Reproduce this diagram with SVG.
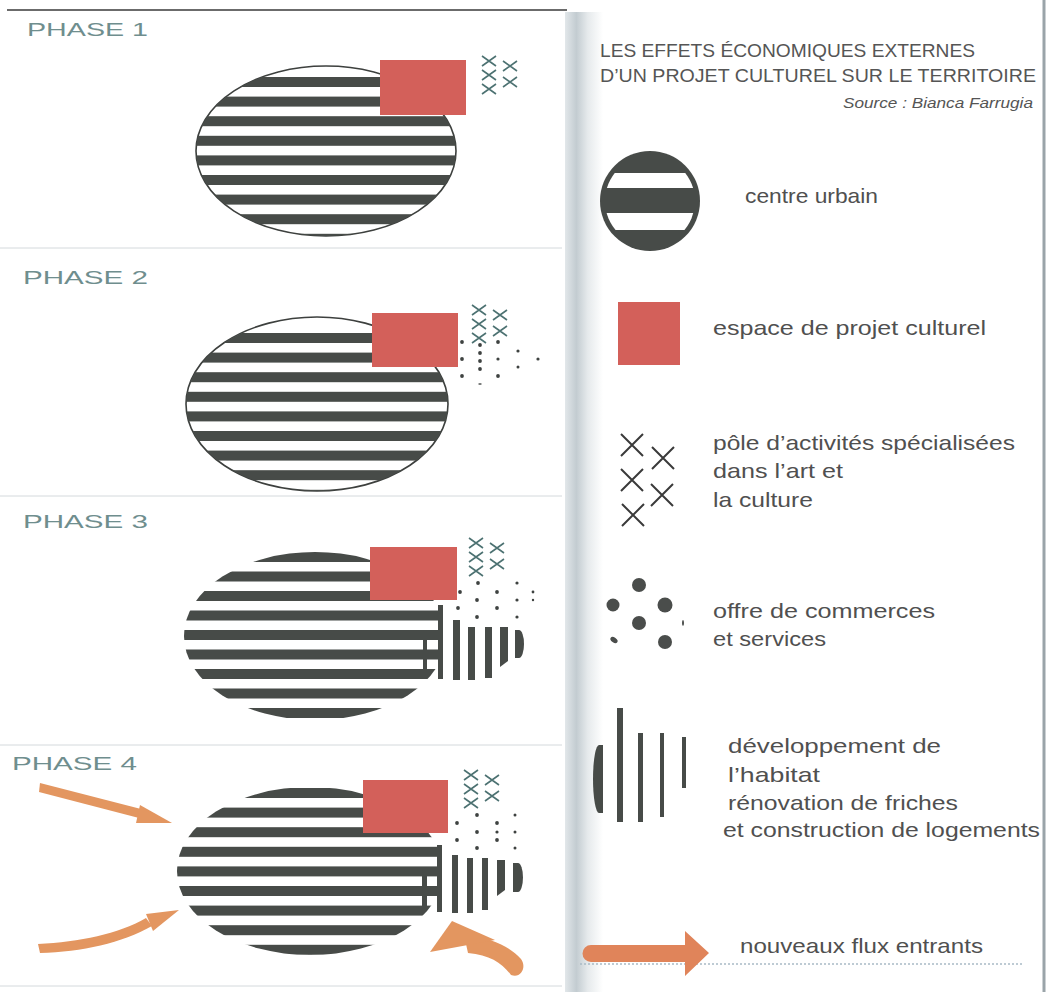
<svg xmlns="http://www.w3.org/2000/svg" width="1048" height="992" viewBox="0 0 1048 992">
<style>
.ph{font-family:"Liberation Sans",Arial,sans-serif;font-size:18px;fill:#6f8e8e;}
.lg{font-family:"Liberation Sans",Arial,sans-serif;font-size:21px;fill:#505050;}
.tt{font-family:"Liberation Sans",Arial,sans-serif;font-size:19px;fill:#555;}
.src{font-family:"Liberation Sans",Arial,sans-serif;font-size:14px;font-style:italic;fill:#555;}
.st{fill:#474b48;}
.red{fill:#d3605a;}
.xs{fill:none;stroke:#4d7272;stroke-width:1.6;}
.dot{fill:#3e4240;}
.flow{fill:#e39660;}
.sep{stroke:#d4d9dc;stroke-width:1;}
</style>
<defs>
<linearGradient id="shade" x1="0" y1="0" x2="1" y2="0">
<stop offset="0" stop-color="#e2e7ea"/>
<stop offset="0.3" stop-color="#c3ccd1"/>
<stop offset="0.6" stop-color="#e6eaec"/>
<stop offset="1" stop-color="#ffffff"/>
</linearGradient>
<clipPath id="c1"><ellipse cx="326" cy="151" rx="130" ry="85"/></clipPath>
<clipPath id="c2"><ellipse cx="317" cy="404" rx="131" ry="87"/></clipPath>
<clipPath id="c3"><path d="M184,636 a131,84 0 0 1 262,0 a131,84 0 0 1 -262,0 Z"/></clipPath>
<clipPath id="c4"><path d="M177,871 a133,84 0 0 1 266,0 a133,84 0 0 1 -266,0 Z"/></clipPath>
<clipPath id="cl"><circle cx="650" cy="201" r="45"/></clipPath>
<path id="xg" d="M-7,-5l14,10m-14,0l14,-10 M14,0l14,10m-14,0l14,-10 M-7,9l14,10m-14,0l14,-10 M14,16l14,10m-14,0l14,-10 M-7,23l14,10m-14,0l14,-10"/>
</defs>
<rect width="1048" height="992" fill="#ffffff"/>

<!-- frame -->
<g id="frame">
<line x1="7" y1="10" x2="567" y2="10" stroke="#3a3a3a" stroke-width="1.5"/>
<line class="sep" x1="0" y1="248" x2="562" y2="248"/>
<line class="sep" x1="0" y1="496" x2="562" y2="496"/>
<line class="sep" x1="0" y1="745" x2="562" y2="745"/>
<line class="sep" x1="0" y1="986" x2="562" y2="986"/>
<rect x="565" y="12" width="38" height="980" fill="url(#shade)"/>
<line x1="1044" y1="0" x2="1044" y2="992" stroke="#9aa4a9" stroke-width="3"/>
</g>

<!-- PHASE 1 -->
<g id="phase1">
<text class="ph" x="27" y="36" textLength="121" lengthAdjust="spacingAndGlyphs">PHASE 1</text>
<ellipse cx="326" cy="151" rx="130" ry="85" fill="#fff" stroke="#3d403e" stroke-width="1.6"/>
<g clip-path="url(#c1)" class="st">
<rect x="190" y="77" width="280" height="10"/>
<rect x="190" y="96.6" width="280" height="10"/>
<rect x="190" y="116.2" width="280" height="10"/>
<rect x="190" y="135.8" width="280" height="10"/>
<rect x="190" y="155.4" width="280" height="10"/>
<rect x="190" y="175" width="280" height="10"/>
<rect x="190" y="194.6" width="280" height="10"/>
<rect x="190" y="214.2" width="280" height="10"/>
<rect x="190" y="233.8" width="280" height="10"/>
</g>
<rect class="red" x="380" y="60" width="86" height="55"/>
<use href="#xg" class="xs" x="489" y="61"/>
</g>

<!-- PHASE 2 -->
<g id="phase2">
<text class="ph" x="23" y="284" textLength="125" lengthAdjust="spacingAndGlyphs">PHASE 2</text>
<ellipse cx="317" cy="404" rx="131" ry="87" fill="#fff" stroke="#3d403e" stroke-width="1.6"/>
<g clip-path="url(#c2)" class="st">
<rect x="180" y="333" width="280" height="10"/>
<rect x="180" y="352.6" width="280" height="10"/>
<rect x="180" y="372.2" width="280" height="10"/>
<rect x="180" y="391.8" width="280" height="10"/>
<rect x="180" y="411.4" width="280" height="10"/>
<rect x="180" y="431" width="280" height="10"/>
<rect x="180" y="450.6" width="280" height="10"/>
<rect x="180" y="470.2" width="280" height="10"/>
<rect x="180" y="489.8" width="280" height="10"/>
</g>
<rect class="red" x="372" y="313" width="86" height="54"/>
<use href="#xg" class="xs" x="479" y="310"/>
<g class="dot">
<circle cx="462" cy="342" r="1.9"/><circle cx="480" cy="345" r="1.9"/><circle cx="498" cy="342" r="1.9"/>
<circle cx="480" cy="353" r="1.9"/><circle cx="518" cy="351" r="1.6"/>
<circle cx="462" cy="359" r="1.9"/><circle cx="480" cy="361" r="1.9"/><circle cx="498" cy="359" r="1.6"/><circle cx="538" cy="359" r="1.6"/>
<circle cx="480" cy="369" r="1.9"/><circle cx="518" cy="367" r="1.5"/>
<circle cx="462" cy="376" r="1.9"/><circle cx="498" cy="376" r="1.9"/>
<ellipse cx="480" cy="384" rx="1.8" ry="0.8"/>
</g>
</g>

<!-- PHASE 3 -->
<g id="phase3">
<text class="ph" x="23" y="528" textLength="125" lengthAdjust="spacingAndGlyphs">PHASE 3</text>
<g clip-path="url(#c3)" class="st">
<rect x="180" y="552" width="263" height="10"/>
<rect x="180" y="571.5" width="263" height="10"/>
<rect x="180" y="591" width="263" height="10"/>
<rect x="180" y="610.5" width="263" height="10"/>
<rect x="180" y="630" width="263" height="10"/>
<rect x="180" y="649.5" width="263" height="10"/>
<rect x="180" y="669" width="263" height="10"/>
<rect x="180" y="688.5" width="263" height="10"/>
<rect x="180" y="708" width="263" height="10"/>
</g>
<g class="st">
<rect x="438" y="605" width="5" height="74"/>
<rect x="423" y="633" width="4" height="40"/>
<rect x="453" y="620" width="7" height="60"/>
<rect x="468" y="627" width="7" height="53"/>
<rect x="485" y="627" width="7" height="51"/>
<path d="M500,627 h8 v34 l-8,6 Z"/>
<path d="M515,630 h4 a5,14 0 0 1 0,28 h-4 Z"/>
</g>
<rect class="red" x="370" y="547" width="87" height="53"/>
<use href="#xg" class="xs" x="476" y="543"/>
<g class="dot">
<circle cx="478" cy="583" r="1.9"/><circle cx="517" cy="583" r="1.6"/>
<circle cx="460" cy="592" r="1.9"/><circle cx="497" cy="592" r="1.9"/><circle cx="533" cy="592" r="1.4"/>
<circle cx="477" cy="600" r="1.9"/><circle cx="517" cy="600" r="1.6"/><circle cx="533" cy="600" r="1.2"/>
<circle cx="458" cy="608" r="1.9"/><circle cx="497" cy="608" r="1.9"/>
<circle cx="477" cy="617" r="1.9"/><circle cx="517" cy="617" r="1.6"/>
</g>
</g>

<!-- PHASE 4 -->
<g id="phase4">
<text class="ph" x="12" y="770" textLength="125" lengthAdjust="spacingAndGlyphs">PHASE 4</text>
<g clip-path="url(#c4)" class="st">
<rect x="170" y="788" width="267" height="10"/>
<rect x="170" y="807.6" width="267" height="10"/>
<rect x="170" y="827.2" width="267" height="10"/>
<rect x="170" y="846.8" width="267" height="10"/>
<rect x="170" y="866.4" width="267" height="10"/>
<rect x="170" y="886" width="267" height="10"/>
<rect x="170" y="905.6" width="267" height="10"/>
<rect x="170" y="925.2" width="267" height="10"/>
<rect x="170" y="944.8" width="267" height="10"/>
</g>
<g class="st">
<rect x="437" y="845" width="5" height="67"/>
<rect x="422" y="870" width="5" height="38"/>
<rect x="452" y="855" width="6" height="58"/>
<rect x="467" y="858" width="6" height="55"/>
<rect x="482" y="858" width="6" height="52"/>
<path d="M497,860 h8 v30 l-8,6 Z"/>
<path d="M513,863 h5 a5,14.5 0 0 1 0,29 h-5 Z"/>
</g>
<rect class="red" x="363" y="780" width="85" height="53"/>
<use href="#xg" class="xs" x="471" y="775"/>
<g class="dot">
<circle cx="477" cy="815" r="1.9"/><circle cx="515" cy="815" r="1.5"/>
<circle cx="457" cy="823" r="1.9"/><circle cx="497" cy="823" r="1.9"/>
<circle cx="477" cy="832" r="1.9"/><circle cx="497" cy="832" r="1.6"/><circle cx="515" cy="832" r="1.5"/>
<circle cx="457" cy="840" r="1.9"/><circle cx="497" cy="840" r="1.9"/>
<circle cx="477" cy="848" r="1.9"/><circle cx="515" cy="848" r="1.5"/>
</g>
</g>

<!-- flows (connectors) -->
<g id="flows" class="flow">
<path d="M40,783 L141,809 L139,818 L39,792 Z"/>
<path d="M172,823 L140,805 L136,823 Z"/>
<path d="M38,944 C80,942 118,934 146,918 L152,926 C122,943 82,952 40,953 Z"/>
<path d="M179,910 L146,914 L153,931 Z"/>
<path d="M464,935 C490,937 509,946 521,959 C527,967 521,979 511,975 C502,963 490,955 468,953 Z"/>
<path d="M452,921 L430,952 L495,940 Z"/>
</g>

<!-- LEGEND -->
<g id="title">
<text class="tt" x="600" y="57" textLength="375" lengthAdjust="spacingAndGlyphs">LES EFFETS ÉCONOMIQUES EXTERNES</text>
<text class="tt" x="600" y="82" textLength="436" lengthAdjust="spacingAndGlyphs">D’UN PROJET CULTUREL SUR LE TERRITOIRE</text>
<text class="src" x="843" y="108" textLength="190" lengthAdjust="spacingAndGlyphs">Source : Bianca Farrugia</text>
</g>

<g id="leg-centre">
<circle cx="650" cy="201" r="50" fill="#474b48"/>
<g clip-path="url(#cl)" fill="#fff">
<rect x="600" y="173" width="100" height="15"/>
<rect x="600" y="213" width="100" height="17"/>
</g>
<text class="lg" x="745" y="203" textLength="133" lengthAdjust="spacingAndGlyphs">centre urbain</text>
</g>

<g id="leg-projet">
<rect class="red" x="618" y="302" width="62" height="63"/>
<text class="lg" x="713" y="335" textLength="273" lengthAdjust="spacingAndGlyphs">espace de projet culturel</text>
</g>

<g id="leg-pole">
<g fill="none" stroke="#3a3a3a" stroke-width="2">
<path d="M621,434l22,22m-22,0l22,-22"/>
<path d="M652,447l22,22m-22,0l22,-22"/>
<path d="M621,469l22,22m-22,0l22,-22"/>
<path d="M651,484l22,22m-22,0l22,-22"/>
<path d="M622,504l22,22m-22,0l22,-22"/>
</g>
<text class="lg" x="713" y="450" textLength="302" lengthAdjust="spacingAndGlyphs">pôle d’activités spécialisées</text>
<text class="lg" x="713" y="478" textLength="130" lengthAdjust="spacingAndGlyphs">dans l’art et</text>
<text class="lg" x="713" y="507" textLength="100" lengthAdjust="spacingAndGlyphs">la culture</text>
</g>

<g id="leg-commerces">
<g fill="#4a4d4b">
<circle cx="639" cy="585" r="7"/>
<circle cx="613" cy="605" r="6.5"/>
<circle cx="665" cy="605" r="7.5"/>
<circle cx="639" cy="623" r="7"/>
<ellipse cx="614" cy="640" rx="4" ry="2.5" transform="rotate(35 614 640)"/>
<circle cx="665" cy="642" r="7"/>
<ellipse cx="683" cy="623" rx="1" ry="3"/>
</g>
<text class="lg" x="713" y="618" textLength="222" lengthAdjust="spacingAndGlyphs">offre de commerces</text>
<text class="lg" x="713" y="646" textLength="113" lengthAdjust="spacingAndGlyphs">et services</text>
</g>

<g id="leg-habitat">
<g fill="#474b48">
<path d="M603,745 v68 h-4 a6,34 0 0 1 0,-68 Z"/>
<rect x="617" y="708" width="6" height="114"/>
<rect x="638" y="733" width="5" height="89"/>
<rect x="660" y="733" width="4" height="84"/>
<rect x="682" y="737" width="4" height="51"/>
</g>
<text class="lg" x="728" y="753" textLength="213" lengthAdjust="spacingAndGlyphs">développement de</text>
<text class="lg" x="728" y="782" textLength="92" lengthAdjust="spacingAndGlyphs">l’habitat</text>
<text class="lg" x="728" y="810" textLength="230" lengthAdjust="spacingAndGlyphs">rénovation de friches</text>
<text class="lg" x="723" y="837" textLength="317" lengthAdjust="spacingAndGlyphs">et construction de logements</text>
</g>

<g id="leg-flux">
<line x1="580" y1="964" x2="1023" y2="964" stroke="#a9bac6" stroke-width="1.5" stroke-dasharray="2 2"/>
<path d="M591,945 H685 V931 L709,953 L685,976 V962 H591 a8.5,8.5 0 0 1 0,-17 Z" fill="#e0845a"/>
<text class="lg" x="740" y="953" textLength="243" lengthAdjust="spacingAndGlyphs">nouveaux flux entrants</text>
</g>
</svg>
